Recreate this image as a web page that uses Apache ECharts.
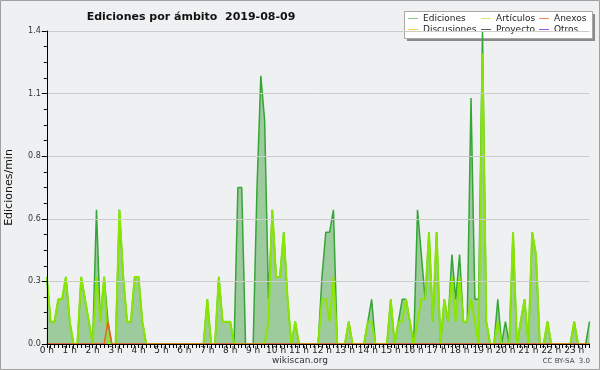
<!DOCTYPE html>
<html>
<head>
<meta charset="utf-8">
<script src="https://cdn.jsdelivr.net/npm/echarts@6/dist/echarts.min.js"></script>
<style>html,body{margin:0;padding:0;background:#eff0f2;}#c{width:600px;height:370px;}</style>
</head>
<body>
<div id="c"></div>
<script>
const hourLabels = ['0 h','1 h','2 h','3 h','4 h','5 h','6 h','7 h','8 h','9 h','10 h','11 h','12 h','13 h','14 h','15 h','16 h','17 h','18 h','19 h','20 h','21 h','22 h','23 h'];
const slotCount = 143;
const slots = [];
for (let i = 0; i < slotCount; i++) slots.push('s' + i);

const ediciones = [
0.3,0.1,0.1,0.2,0.2,0.3,0.1,0,0,0.3,0.2,0.1,0,0.6,0.1,0.3,0.1,0,0,0.6,0.3,0.1,0.1,0.3,0.3,0.1,0,
0,0,0,0,0,0,0,0,0,0,0,0,0,0,
0,0.2,0,0,0.3,0.1,0.1,0.1,0,0.7,0.7,0,0,0,0.7,1.2,1.0,0.2,0.6,0.3,0.3,0.5,0.2,0,0.1,0,
0,0,0,0,0,0.3,0.5,0.5,0.6,0,0,0,0.1,0,0,0,0,0.1,0.2,0,0,0,0,0.2,0,0.1,0.2,0.2,0.1,0,
0.6,0.4,0.2,0.5,0.1,0.5,0,0.2,0.1,0.4,0.2,0.4,0.1,0.1,1.1,0.2,0.2,1.4,0.1,0,0,0.2,0,0.1,0,
0.5,0,0.1,0.2,0,0.5,0.4,0,0,0.1,0,0,0,0,0,0,0.1,0,0,0,0.1
];
const articulos = [
0.3,0.1,0.1,0.2,0.2,0.3,0.1,0,0,0.3,0.2,0.1,0,0.3,0.1,0.3,0,0,0,0.6,0.3,0.1,0.1,0.3,0.3,0.1,0,
0,0,0,0,0,0,0,0,0,0,0,0,0,0,
0,0.2,0,0,0.3,0.1,0.1,0.1,0,0,0,0,0,0,0,0,0,0.1,0.6,0.3,0.3,0.5,0.2,0,0.1,0,
0,0,0,0,0,0.2,0.2,0.1,0.3,0,0,0,0.1,0,0,0,0,0.1,0.1,0,0,0,0,0.2,0,0.1,0.1,0.2,0.1,0,
0.1,0.2,0.2,0.5,0.1,0.5,0,0.2,0.1,0.3,0.1,0.3,0.1,0.1,0.2,0.1,0,1.3,0.1,0,0,0.1,0,0,0,
0.5,0,0.1,0.2,0,0.5,0.4,0,0,0.1,0,0,0,0,0,0,0.1,0,0,0,0
];
const anexos = slots.map((s, i) => i === 16 ? 0.1 : 0);
const discusiones = slots.map(() => 0);
const proyecto = slots.map(() => 0);
const otros = slots.map(() => 0);

const yTickValues = [0, 0.28, 0.56, 0.84, 1.12, 1.4];

const chart = echarts.init(document.getElementById('c'), null, {renderer: 'canvas'});
const FONT = 'DejaVu Sans';
const legendText = {fontFamily: FONT, fontSize: 9, color: '#222', lineHeight: 11};
function legendBlock(left, items) {
  return {
    orient: 'vertical', left: left, top: 13, itemWidth: 10, itemHeight: 1, itemGap: 0,
    icon: 'rect', textStyle: legendText, selectedMode: false, padding: 0,
    data: items.map(it => ({name: it[0], icon: 'rect', itemStyle: {color: it[1]}, lineStyle: {color: it[1]}}))
  };
}
function line(name, data, color, width, z) {
  return {name, type: 'line', data, symbol: 'none', z: z,
    lineStyle: {color, width}, itemStyle: {color}, emphasis: {disabled: true}};
}
const option = {
  animation: false,
  backgroundColor: '#eff0f2',
  title: {text: 'Ediciones por ámbito  2019-08-09', left: 186, top: 7, textAlign: 'center',
    textStyle: {fontFamily: FONT, fontSize: 11, fontWeight: 'bold', color: '#111'}},
  graphic: [
    {type: 'rect', shape: {x: 0.5, y: 0.5, width: 599, height: 369}, style: {fill: 'none', stroke: '#a0a0a0', lineWidth: 1}, z: 100},
    {type: 'rect', shape: {x: 407, y: 14, width: 188, height: 27}, style: {fill: '#8a8a8a'}, z: 0},
    {type: 'rect', shape: {x: 404.5, y: 11.5, width: 188, height: 27}, style: {fill: '#ffffff', stroke: '#a8a8a8', lineWidth: 1}, z: 1},
    {type: 'text', left: 'center', top: 356, style: {text: 'wikiscan.org', fontFamily: FONT, fontSize: 9, fill: '#333'}},
    {type: 'text', right: 10, top: 358, style: {text: 'CC BY-SA  3.0', fontFamily: FONT, fontSize: 7, fill: '#444'}}
  ],
  legend: [
    legendBlock(408, [['Ediciones', '#8acb8a'], ['Discusiones', '#f2d158']]),
    legendBlock(481, [['Artículos', '#cdee70'], ['Proyecto', '#5a5a5a']]),
    legendBlock(539, [['Anexos', '#ee8a55'], ['Otros', '#9a55ee']])
  ],
  grid: {left: 46.8, right: 10.5, top: 31, bottom: 26, containLabel: false, outerBoundsMode: 'none'},
  xAxis: {
    type: 'category', data: slots, boundaryGap: false, z: 5,
    axisLine: {lineStyle: {color: '#000', width: 1}},
    axisTick: {interval: 0, length: 4, lineStyle: {color: '#000'}},
    axisLabel: {interval: 5, margin: 2, fontFamily: FONT, fontSize: 9, color: '#222',
      formatter: (v, idx) => hourLabels[idx / 6]},
    splitLine: {show: false}
  },
  yAxis: {
    type: 'value', min: 0, max: yTickValues[5], interval: yTickValues[1], z: 5,
    name: 'Ediciones/min', nameLocation: 'middle', nameGap: 32, nameRotate: 90,
    nameTextStyle: {fontFamily: FONT, fontSize: 11, color: '#111'},
    axisLine: {show: true, lineStyle: {color: '#000'}},
    axisTick: {show: true, length: 5, lineStyle: {color: '#000'}},
    minorTick: {show: true, splitNumber: 4, length: 3, lineStyle: {color: '#000'}},
    axisLabel: {margin: 6, fontFamily: FONT, fontSize: 8, color: '#333', formatter: v => v.toFixed(1)},
    splitLine: {lineStyle: {color: '#cccccc', width: 1}}
  },
  series: [
    Object.assign(line('Ediciones', ediciones, '#35a535', 1.5, 2), {areaStyle: {color: '#9ecb9e', opacity: 1}}),
    line('Discusiones', discusiones, '#f2d158', 1, 2),
    line('Proyecto', proyecto, '#5a5a5a', 1, 2),
    line('Otros', otros, '#9a55ee', 1, 2),
    line('Artículos', articulos, '#88e600', 2, 3),
    line('Anexos', anexos, '#e8661e', 1.5, 4)
  ]
};
chart.setOption(option);
</script>
</body>
</html>
